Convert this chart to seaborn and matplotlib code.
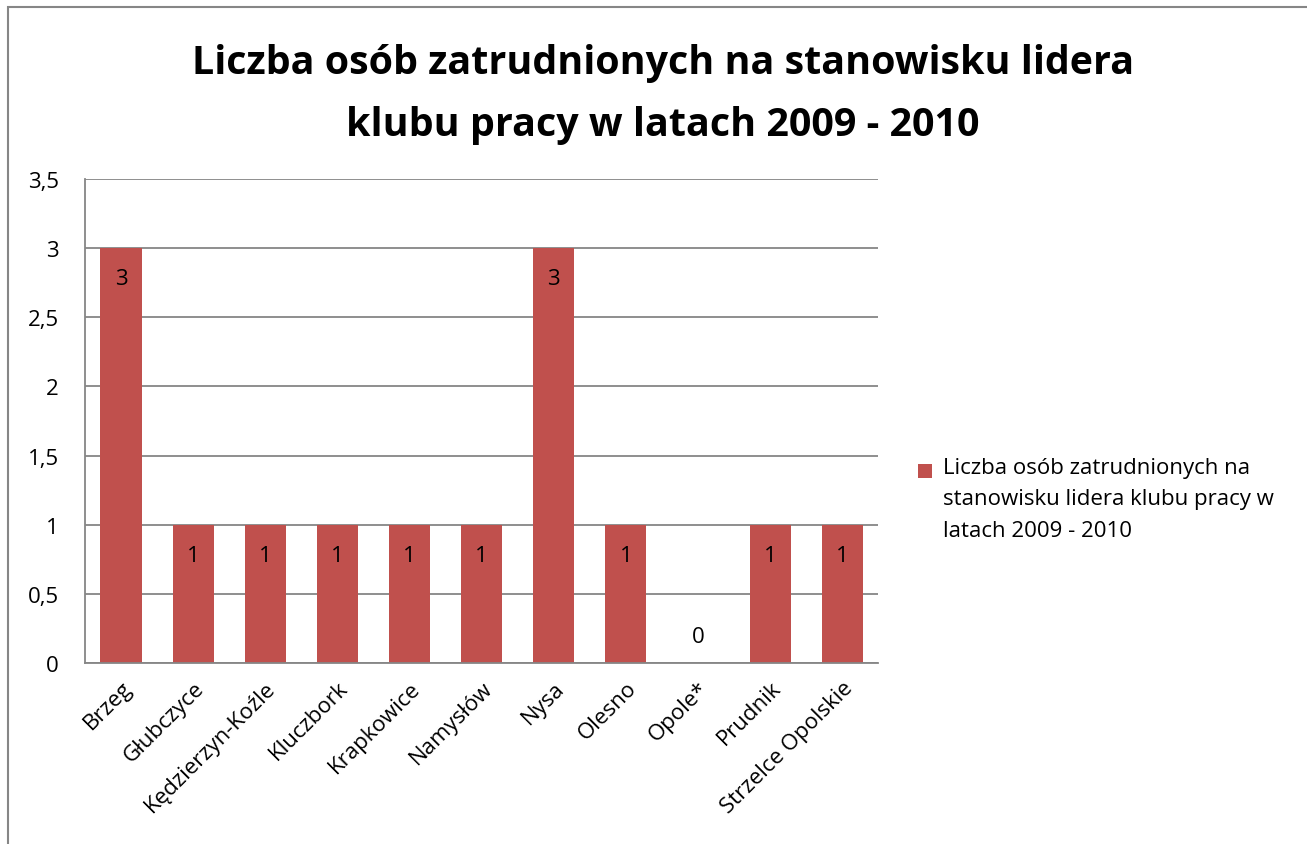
import matplotlib
matplotlib.use("Agg")
import matplotlib.pyplot as plt
import seaborn as sns
import pandas as pd
from matplotlib.legend_handler import HandlerPatch

# data
categories = ["Brzeg", "Głubczyce", "Kędzierzyn-Koźle", "Kluczbork", "Krapkowice",
              "Namysłów", "Nysa", "Olesno", "Opole*", "Prudnik", "Strzelce Opolskie"]
values = [3, 1, 1, 1, 1, 1, 3, 1, 0, 1, 1]
series_name = "Liczba osób zatrudnionych na\nstanowisku lidera klubu pracy w\nlatach 2009 - 2010"
title = "Liczba osób zatrudnionych na stanowisku lidera\nklubu pracy w latach 2009 - 2010"
y_ticks = [0, 0.5, 1, 1.5, 2, 2.5, 3, 3.5]

sns.set_style("white")
plt.rcParams["font.family"] = ["Open Sans", "DejaVu Sans"]
plt.rcParams["text.color"] = "black"
plt.rcParams["xtick.color"] = "black"
plt.rcParams["ytick.color"] = "black"

BAR = "#C0504D"
GRID = "#868686"
FS = 16


class TopSquare(HandlerPatch):
    # legend square sits next to the first line of the label, like in Excel
    def __init__(self, shift=0, **kw):
        super().__init__(**kw)
        self.shift = shift

    def create_artists(self, legend, orig_handle, xdescent, ydescent,
                       width, height, fontsize, trans):
        s = 10.5
        p = plt.Rectangle((-xdescent, -ydescent + self.shift), s, s)
        self.update_prop(p, orig_handle, legend)
        p.set_transform(trans)
        return [p]


df = pd.DataFrame({"powiat": categories, "liczba": values})

fig = plt.figure(figsize=(13.07, 8.45), dpi=100)
ax = fig.add_axes([0.065, 0.214, 0.607, 0.573])

sns.barplot(data=df, x="powiat", y="liczba", color=BAR, width=0.57,
            saturation=1, edgecolor="none", ax=ax)

ax.set_ylim(0, 3.5)
ax.set_xlim(-0.5, len(categories) - 0.5)
ax.set_yticks(y_ticks)
ax.set_yticklabels([f"{t:g}".replace(".", ",") for t in y_ticks], fontsize=FS)
ax.set_xticks(range(len(categories)))
ax.set_xticklabels(categories, rotation=45, ha="right", rotation_mode="anchor", fontsize=FS)
ax.tick_params(axis="x", length=0, pad=10)
ax.tick_params(axis="y", length=0, pad=19)
ax.set_xlabel("")
ax.set_ylabel("")

ax.yaxis.grid(True, color=GRID, linewidth=1.3)
ax.set_axisbelow(True)
for side in ["top", "right"]:
    ax.spines[side].set_visible(False)
for side in ["left", "bottom"]:
    ax.spines[side].set_color(GRID)
    ax.spines[side].set_linewidth(1.3)

# data labels, Excel style
for i, v in enumerate(values):
    off = -22 if v > 0 else 19
    ax.annotate(str(v), (i, v), xytext=(0, off), textcoords="offset points",
                ha="center", va="center", fontsize=FS, color="black")

fig.text(0.507, 0.888, title, ha="center", va="center", fontsize=28.4,
         fontweight="bold", linespacing=1.76)

proxy = plt.Rectangle((0, 0), 1, 1, facecolor=BAR, edgecolor="none")
ax.legend([proxy], [series_name], loc="upper left", bbox_to_anchor=(0.702, 0.458),
          bbox_transform=fig.transFigure, frameon=False, fontsize=FS,
          handlelength=0.75, handleheight=0.75, handletextpad=0.4,
          borderaxespad=0, borderpad=0,
          handler_map={plt.Rectangle: TopSquare(shift=21)})
leg = ax.get_legend()
for t in leg.get_texts():
    t.set_linespacing(1.65)

# chart border (only left and top edges visible in the reference)
fig.patches.append(plt.Rectangle((0.0065, -0.05), 1.1, 1.04, transform=fig.transFigure,
                                 fill=False, edgecolor=GRID, linewidth=1.5))

fig.savefig("out.png", dpi=100)
